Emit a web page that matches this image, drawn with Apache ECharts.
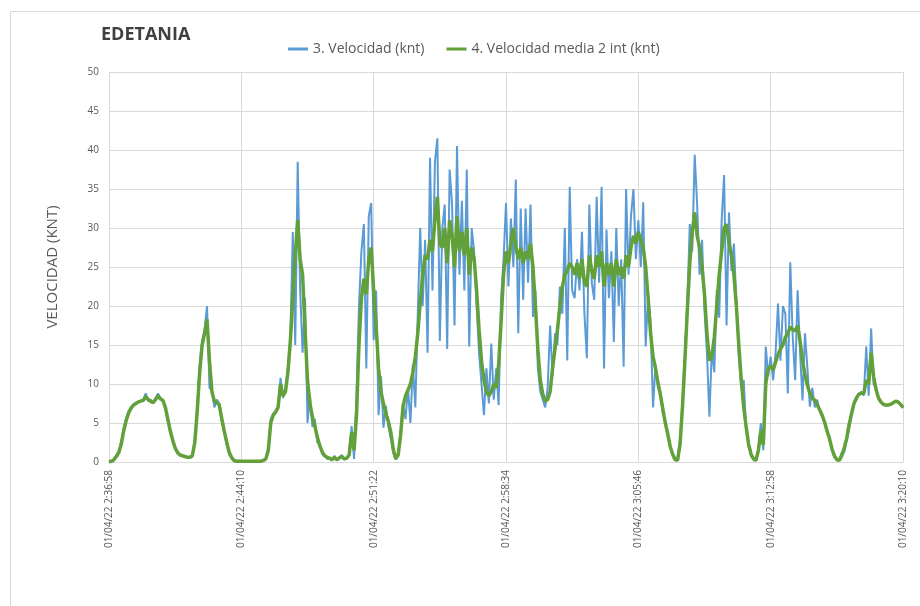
<!DOCTYPE html>
<html>
<head>
<meta charset="utf-8">
<title>EDETANIA</title>
<script src="https://cdn.jsdelivr.net/npm/echarts@6/dist/echarts.min.js"></script>
<style>
  html, body { margin: 0; padding: 0; background: #ffffff; }
  #chart { width: 920px; height: 606px; }
</style>
</head>
<body>
<div id="chart"></div>
<script>
// Sampling: one reading every 8 s starting at 01/04/22 2:36:58
const stepSeconds = 8;
const tickSeconds = 432;
const tickLabels = [
  '01/04/22 2:36:58', '01/04/22 2:44:10', '01/04/22 2:51:22', '01/04/22 2:58:34',
  '01/04/22 3:05:46', '01/04/22 3:12:58', '01/04/22 3:20:10'
];
const seriesNames = ['3. Velocidad (knt)', '4. Velocidad media 2 int (knt)'];

// 3. Velocidad (knt)
const velocidad = [
  0, 0, 0.4, 0.9, 1.4, 2.6, 4.4, 5.6, 6.5, 7.0,
  7.4, 7.6, 7.7, 7.9, 8.0, 8.8, 7.8, 8.0, 7.5, 8.2,
  8.8, 8.0, 7.8, 6.8, 5.3, 3.8, 2.6, 1.7, 1.1, 0.9,
  0.8, 0.7, 0.6, 0.5, 0.7, 2.8, 7.0, 12.5, 15.5, 17.0,
  20.0, 9.5, 9.2, 7.0, 8.0, 7.5, 5.3, 3.8, 2.2, 1.0,
  0.5, 0.1, 0.1, 0.1, 0.1, 0.1, 0.1, 0.1, 0.1, 0.1,
  0.1, 0.1, 0.1, 0.2, 0.4, 1.8, 5.5, 6.2, 6.5, 7.2,
  10.8, 8.2, 9.3, 12.0, 16.0, 29.5, 15.0, 38.5, 22.0, 14.0,
  21.0, 5.0, 8.5, 4.5, 5.5, 2.5, 2.4, 1.0, 0.9, 0.4,
  0.4, 0.2, 0.8, 0.2, 0.6, 0.9, 0.3, 0.4, 1.0, 4.6,
  0.4, 8.5, 20.0, 27.0, 30.5, 12.0, 31.5, 33.2, 15.6, 22.0,
  6.0, 11.0, 4.4, 7.2, 4.6, 3.0, 1.2, 0.3, 1.2, 3.8,
  7.5, 5.5, 9.5, 5.0, 12.5, 7.0, 19.0, 30.0, 20.0, 28.5,
  14.0, 39.0, 22.0, 38.5, 41.5, 15.5, 30.0, 33.0, 14.5, 37.5,
  33.0, 17.5, 40.5, 24.0, 33.5, 22.0, 37.5, 14.8, 30.0, 27.0,
  20.0, 14.0, 10.0, 6.0, 12.0, 7.5, 15.2, 8.0, 12.0, 7.3,
  21.0, 26.0, 33.2, 22.5, 31.2, 25.0, 36.2, 16.5, 32.5, 20.8,
  32.5, 23.0, 33.0, 18.6, 22.0, 12.0, 9.0, 8.0, 7.0, 9.5,
  17.5, 11.0, 16.5, 15.0, 22.5, 19.0, 30.0, 13.0, 35.3, 22.0,
  21.0, 26.0, 22.0, 29.5, 19.0, 13.3, 33.0, 23.0, 20.8, 34.0,
  23.0, 35.3, 12.0, 29.8, 21.0, 27.0, 15.4, 30.0, 20.0, 26.0,
  12.2, 35.0, 24.0, 31.5, 35.0, 26.0, 31.0, 25.0, 33.3, 14.8,
  21.5, 17.8, 7.0, 12.5, 9.5, 9.0, 6.2, 5.3, 3.4, 1.9,
  1.0, 0.2, 0.5, 2.8, 7.5, 14.0, 20.5, 30.5, 27.0, 39.4,
  33.0, 24.0, 28.5, 19.5, 14.0, 5.8, 14.5, 11.5, 22.0, 18.5,
  31.0, 36.8, 17.5, 32.0, 24.5, 28.0, 20.5, 13.5, 9.5, 10.5,
  4.2, 2.0, 0.8, 0.3, 0.3, 1.8, 5.0, 1.5, 14.8, 11.0,
  13.5, 10.5, 14.0, 20.3, 13.0, 20.0, 19.0, 8.8, 25.6, 16.0,
  10.5, 22.0, 14.0, 7.9, 16.5, 12.0, 7.1, 9.5, 7.0, 8.0,
  6.6, 5.8, 5.0, 3.9, 2.8, 1.5, 0.6, 0.2, 0.3, 1.2,
  1.2, 2.8, 4.2, 6.0, 7.5, 8.0, 8.7, 9.0, 8.5, 14.8,
  8.5, 17.1, 10.0, 9.5, 8.0, 7.6, 7.3, 7.2, 7.3, 7.4,
  7.6, 7.8, 7.6, 7.3, 6.9
];

// 4. Velocidad media 2 int (knt)
const velocidadMedia = [
  0, 0.1, 0.3, 0.7, 1.2, 2.3, 4.0, 5.3, 6.3, 6.9,
  7.3, 7.5, 7.7, 7.8, 7.9, 8.4, 8.0, 7.8, 7.6, 8.0,
  8.5, 8.1, 7.9, 7.0, 5.5, 4.0, 2.8, 1.8, 1.2, 0.9,
  0.8, 0.7, 0.6, 0.6, 0.8, 2.5, 6.5, 11.5, 15.0, 16.5,
  18.3, 13.0, 9.0, 7.8, 7.6, 7.3, 5.6, 4.0, 2.6, 1.3,
  0.6, 0.2, 0.1, 0.1, 0.1, 0.1, 0.1, 0.1, 0.1, 0.1,
  0.1, 0.1, 0.1, 0.2, 0.4, 1.5, 5.0, 6.0, 6.4, 7.0,
  10.0, 8.5, 9.0, 11.5, 15.5, 21.0, 26.5, 31.0, 26.0, 24.0,
  17.0, 10.5, 7.5, 5.8, 4.6, 3.2, 2.1, 1.3, 0.8, 0.6,
  0.5, 0.3, 0.6, 0.3, 0.5, 0.7, 0.4, 0.5, 0.9, 3.8,
  1.5, 6.0, 15.0, 21.0, 23.5, 21.5, 26.0, 27.5, 22.0, 17.5,
  12.0, 9.0, 7.5, 6.2, 5.2, 3.8, 1.6, 0.4, 0.9, 3.5,
  7.2, 8.5, 9.2, 10.0, 11.5, 13.5, 16.5, 20.5, 24.0, 26.5,
  26.0, 28.5, 27.0, 31.0, 34.0, 28.0, 27.5, 30.0, 25.5, 31.0,
  29.0, 25.0, 31.5, 27.0, 29.5, 26.5, 30.0, 24.0, 27.5, 26.0,
  22.0, 17.0, 13.0, 10.5, 9.0, 8.5, 9.0, 10.0, 9.5, 12.5,
  18.0, 24.0, 27.0, 25.5, 28.0, 30.0, 27.5, 26.0, 27.5, 25.5,
  27.0, 26.0, 28.0, 25.0, 20.0, 14.5, 10.5, 8.7, 7.8, 8.0,
  9.0, 12.0, 14.5, 17.0, 20.0, 22.5, 24.0, 24.5, 25.5, 25.0,
  24.0, 25.5, 23.5, 26.0, 23.0, 22.5, 26.5, 24.5, 23.5, 26.5,
  25.0, 27.0, 22.5, 25.5, 24.0, 25.5, 22.5, 26.0, 24.0, 25.0,
  23.5, 26.5, 25.0, 27.5, 29.0, 28.0, 29.5, 28.5, 27.5, 25.0,
  21.0, 16.5, 13.5, 12.0, 10.2, 8.6, 6.8, 5.0, 3.6, 2.0,
  1.0, 0.3, 0.2, 2.2, 7.0, 13.0, 19.5, 25.5, 29.5, 32.0,
  29.0, 27.5, 25.0, 21.5, 16.5, 13.0, 13.5, 16.0, 20.0, 24.0,
  27.0, 30.0, 30.5, 28.0, 26.5, 24.0, 20.0, 15.0, 10.5, 7.0,
  4.5, 2.3, 1.0, 0.4, 0.2, 1.5, 4.0, 2.2, 10.0, 12.0,
  12.3, 11.8, 12.8, 13.8, 14.5, 15.0, 16.0, 16.5, 17.3, 17.0,
  16.8, 17.5, 15.5, 13.0, 11.2, 9.8, 8.8, 8.2, 7.9, 7.3,
  6.7, 6.0, 5.1, 4.0, 3.0, 1.7, 0.8, 0.3, 0.2, 0.8,
  1.8, 3.0, 4.8, 6.2, 7.5, 8.2, 8.7, 8.8, 8.8, 10.5,
  10.0, 14.0, 11.0, 9.3, 8.2, 7.7, 7.4, 7.3, 7.3, 7.4,
  7.6, 7.8, 7.7, 7.4, 7.0
];

const toPairs = vals => vals.map((v, i) => [i * stepSeconds, v]);
const spanSeconds = tickSeconds * (tickLabels.length - 1);

const chart = echarts.init(document.getElementById('chart'), null, { renderer: 'canvas' });

const labelColor = '#595959';
const gridColor = '#D9D9D9';
const fontFamily = '"Open Sans", "Liberation Sans", sans-serif';

chart.setOption({
  animation: false,
  backgroundColor: '#ffffff',
  graphic: [{
    type: 'rect',
    left: 8, top: 9,
    shape: { width: 930, height: 610 },
    style: { fill: 'none', stroke: gridColor, lineWidth: 1 },
    silent: true
  }],
  title: {
    text: 'EDETANIA',
    left: 96, top: 21,
    textStyle: { fontFamily, fontSize: 18, fontWeight: 'bold', color: '#404040' }
  },
  legend: {
    top: 37,
    left: 283,
    itemWidth: 20,
    itemHeight: 3,
    itemGap: 22,
    icon: 'rect',
    textStyle: { fontFamily, fontSize: 14, color: labelColor },
    data: seriesNames
  },
  grid: { left: 109, right: 17, top: 72, bottom: 144, containLabel: false },
  xAxis: {
    type: 'value',
    min: 0,
    max: spanSeconds,
    interval: tickSeconds,
    axisLine: { show: true, lineStyle: { color: gridColor } },
    axisTick: { show: false },
    splitLine: { show: true, lineStyle: { color: gridColor, width: 1 } },
    axisLabel: {
      rotate: 90,
      margin: 8,
      fontFamily, fontSize: 10, color: labelColor,
      formatter: v => tickLabels[Math.round(v / tickSeconds)] || ''
    }
  },
  yAxis: {
    type: 'value',
    min: 0, max: 50, interval: 5,
    name: 'VELOCIDAD (KNT)',
    nameLocation: 'middle',
    nameGap: 49,
    nameRotate: 90,
    nameTextStyle: { fontFamily, fontSize: 15, color: labelColor },
    axisLine: { show: false },
    axisTick: { show: false },
    splitLine: { show: true, lineStyle: { color: gridColor, width: 1 } },
    axisLabel: { fontFamily, fontSize: 10, color: labelColor, margin: 10 }
  },
  series: [
    {
      name: seriesNames[0],
      type: 'line',
      data: toPairs(velocidad),
      symbol: 'none',
      color: '#5B9BD5',
      lineStyle: { color: '#5B9BD5', width: 2 },
      z: 2
    },
    {
      name: seriesNames[1],
      type: 'line',
      data: toPairs(velocidadMedia),
      symbol: 'none',
      color: '#62A03A',
      lineStyle: { color: '#62A03A', width: 3.5 },
      z: 3
    }
  ]
});
</script>
</body>
</html>
